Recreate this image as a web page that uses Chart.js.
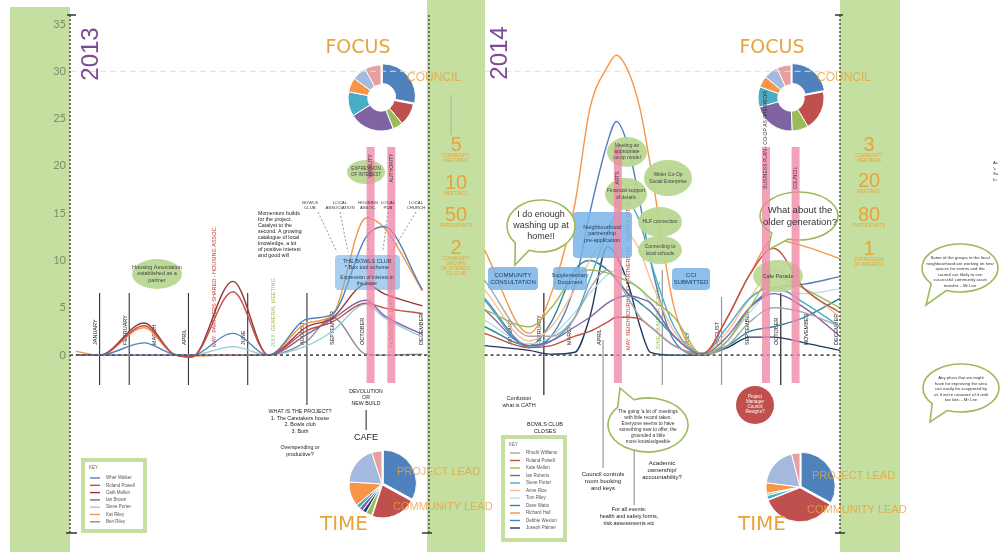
<!DOCTYPE html>
<html>
<head>
<meta charset="utf-8">
<script src="https://cdn.jsdelivr.net/npm/chart.js@4.4.1/dist/chart.umd.min.js"></script>
<style>
  html, body { margin: 0; padding: 0; background: #fff; }
  #wrap { position: relative; width: 1000px; height: 552px; overflow: hidden; }
  #wrap canvas { position: absolute; }
  #main { left: 0; top: 0; z-index: 2; }
</style>
</head>
<body>
<div id="wrap">
  <canvas id="focus2013" width="100" height="100" style="left:331px;top:48px"></canvas>
  <canvas id="focus2014" width="100" height="100" style="left:741px;top:48px"></canvas>
  <canvas id="time2013" width="100" height="100" style="left:332px;top:434px"></canvas>
  <canvas id="time2014" width="100" height="100" style="left:750px;top:437px"></canvas>
  <canvas id="main" width="1000" height="552"></canvas>
</div>
<script>
// ---- data ----
const months = ['JANUARY', 'FEBRUARY', 'MARCH', 'APRIL', 'MAY', 'JUNE', 'JULY',
                'AUGUST', 'SEPTEMBER', 'OCTOBER', 'NOVEMBER', 'DECEMBER'];
const yTicks = [0, 5, 10, 15, 20, 25, 30, 35];

// month positions (1 = Jan 2013, 15 = Jan 2014)
const x2013 = [0.2, 1, 2.5, 3.5, 4.1, 5.5, 6.7, 8, 8.85, 10, 10.6, 11.9];
const x2014 = [14.0, 15.5, 16.25, 17.05, 17.55, 18.15, 18.45, 18.85, 19.25, 19.6, 20.4, 21.35, 22.2, 22.95, 23.75, 24.8, 26.0];

const names2013 = ['Wher Walker', 'Roland Powell', 'Cath Mellon', 'Ian Brown', 'Steve Porter', 'Kat Riley', 'Ben Riley'];
const walker13 = [0, 0, 1.3, 0.1, 0, 2.3, 0, 3.8, 4.3, 12.5, 13.6, 6.9];
const powell13 = [0, 0, 3.1, 0.1, -0.2, 6.7, 0, 2.6, 3.5, 5.5, 5.0, 4.4];
const mellon13 = [0, 0, 3.4, 0.1, -0.2, 7.8, 0, 3.0, 3.9, 7.5, 6.5, 5.2];
const brown13  = [0, 0, 0, 0, 0, 0, 0, 2.2, 3.8, 5.8, 4.2, 2.2];
const porter13 = [0, 0, 0, 0, 0, 0.9, 0, 1.0, 2.5, 5.4, 4.0, 1.9];
const riley13  = [0.4, 0, 2.9, 0.1, -0.1, 0, 0, 3.4, 4.2, 14.5, 13.5, 6.8];
const ben13    = [0, 0, 0, 0, 0, 0, 0, 1.5, 4.0, 0.1, 0, 0.1];
const values2013 = [walker13, powell13, mellon13, brown13, porter13, riley13, ben13];
const colors2013 = ['#4f81bd', '#c0504d', '#953735', '#8064a2', '#93cddd', '#f79646', '#8c8c8c'];

const names2014 = ['Rhodri Williams', 'Roland Powell', 'Kate Mellon', 'Ian Roberts', 'Steve Porter', 'Anne Rice',
                   'Tom Riley', 'Dave Watts', 'Richard Hall', 'Debbie Weston', 'Joseph Palmer'];
const williams14 = [7.9, 2, 2, 4, 7, 9, 8, 6, 4, 3, 1, 0, 1, 3.5, 5, 4.5, 3];
const powell14   = [2.3, 0.8, 1, 2, 2.5, 3.5, 4, 4, 3.8, 3, 1, 0.1, 4, 8.5, 11.3, 7, 4.5];
const mellon14   = [4.8, 3, 5, 8.5, 9, 8.7, 8.3, 7.8, 7, 6, 4, 0.1, 1.5, 5, 8.3, 7, 5];
const roberts14  = [4.8, 1, 1.5, 3, 4, 5.5, 6, 6.3, 6, 5.5, 2, 0.1, 2, 5, 6.5, 5, 2];
const porter14   = [5.8, 0.8, 1.5, 4, 8, 13, 15, 16, 14, 10, 3, 0.2, 3, 6, 7.2, 5.5, 3];
const rice14     = [6.9, 1.5, 3, 7, 10, 13, 14, 13, 11, 8, 2.5, 0.2, 2.5, 6, 9, 7, 4];
const riley14    = [3.7, 1.2, 2, 4.5, 6.5, 8.5, 9, 8, 7, 5.5, 2, 0.1, 1.5, 4.5, 6.8, 6.5, 7];
const watts14    = [3.0, 1.0, 3.5, 9, 10, 9, 8, 6.5, 5.5, 4.6, 2, 0, 1, 2.5, 3, 4, 6];
const hall14     = [11.1, 2.3, 6.5, 16, 26, 30.5, 31.7, 30, 26, 20, 5, 0.2, 4, 8.5, 12.2, 11.5, 10.2];
const weston14   = [6.0, 1.0, 2.0, 7.5, 15, 22.5, 24.7, 22, 16, 10, 1.5, 0, 1.5, 5, 7, 7.5, 8.3];
const palmer14   = [1.0, 0.5, 0.1, 0.3, 4, 11.5, 10.5, 7.5, 3, 0.3, 0, 0, 0.8, 1.9, 1.9, 1.3, 0.5];
const values2014 = [williams14, powell14, mellon14, roberts14, porter14, rice14, riley14, watts14, hall14, weston14, palmer14];
const colors2014 = ['#a6a6a6', '#c0504d', '#9bbb59', '#8064a2', '#4bacc6', '#fac090', '#b7dee8',
                    '#31859c', '#f79646', '#4f81bd', '#1f3864'];

// event markers (month positions)
const markers2013 = [1, 2, 4, 6, 8];
const markers2014 = [16, 18, 20, 22, 24];
const pinkEvents = [10.15, 10.85, 18.5, 23.5, 24.5];

// pies
const focusLabels = ['Council', 'Housing', 'Funding', 'Community', 'Schools', 'Arts', 'Business', 'Heritage'];
const focus2013 = [28, 11, 5, 22, 12, 7, 7, 8];
const focus2014 = [22, 19.5, 8, 21, 10, 5.5, 7, 7];
const timeLabels2013 = ['Project lead', 'Community lead', 'Partners', 'Council', 'School', 'Arts', 'Volunteers', 'Meetings', 'Other'];
const time2013 = [33, 22, 3, 2, 2, 2, 12, 19, 5];
const timeLabels2014 = ['Project lead', 'Community lead', 'Arts', 'Partners', 'Volunteers', 'Meetings', 'Other'];
const time2014 = [33, 36, 2, 1, 5, 19, 4];

// ---- helpers ----
const SANS = "'Liberation Sans', Arial, sans-serif";
function say(c, s, x, y, size, color, align, rot, font) {
  c.save();
  c.font = size + 'px ' + (font || SANS);
  c.fillStyle = color;
  c.textAlign = align || 'center';
  c.textBaseline = 'middle';
  c.translate(x, y);
  if (rot) c.rotate(-Math.PI / 2);
  c.fillText(s, 0, 0);
  c.restore();
}
function block(c, lines, x, y, lh, size, color, align) {
  lines.forEach((s, i) => say(c, s, x, y + i * lh, size, color, align));
}
function oval(c, cx, cy, rx, ry, fill) {
  c.save(); c.beginPath(); c.ellipse(cx, cy, rx, ry, 0, 0, Math.PI * 2);
  c.fillStyle = fill; c.fill(); c.restore();
}
function bubble(c, cx, cy, rx, ry, ang, tx, ty) {
  const a = ang * Math.PI / 180, d = 0.25;
  c.save(); c.beginPath();
  c.ellipse(cx, cy, rx, ry, 0, a + d, a - d + Math.PI * 2);
  c.lineTo(tx, ty); c.closePath();
  c.fillStyle = '#fff'; c.fill();
  c.strokeStyle = '#9bbb59'; c.lineWidth = 1.6; c.stroke();
  c.restore();
}
function box(c, x, y, w, h, fill) {
  c.save(); c.beginPath(); c.roundRect(x, y, w, h, 4);
  c.fillStyle = fill; c.fill(); c.restore();
}
function vline(c, x, y1, y2, color, w, dash) {
  c.save(); c.beginPath(); c.strokeStyle = color; c.lineWidth = w || 1;
  if (dash) c.setLineDash(dash);
  c.moveTo(x, y1); c.lineTo(x, y2); c.stroke(); c.restore();
}
function seg(c, x1, y1, x2, y2, color, w, dash) {
  c.save(); c.beginPath(); c.strokeStyle = color; c.lineWidth = w || 1;
  if (dash) c.setLineDash(dash);
  c.moveTo(x1, y1); c.lineTo(x2, y2); c.stroke(); c.restore();
}

function makeSets(names, xs, vals, colors, panel) {
  return names.map((n, i) => ({
    label: n,
    panel: panel,
    data: xs.map((x, j) => ({ x: x, y: vals[i][j] })),
    borderColor: colors[i],
    borderWidth: 1.4,
    pointRadius: 0,
    cubicInterpolationMode: 'monotone',
    fill: false
  }));
}

const GREEN = '#c4df9f';
const ORANGE = '#e9a33b';
const INK = '#444';

const decor = {
  id: 'decor',
  beforeDraw(chart) {
    const c = chart.ctx;
    c.save();
    c.fillStyle = GREEN;
    c.fillRect(10, 7, 60, 545);
    c.fillRect(427, 0, 58, 552);
    c.fillRect(840, 0, 60, 552);
    c.restore();
  },
  beforeDatasetsDraw(chart) {
    const c = chart.ctx, X = chart.scales.x, Y = chart.scales.y;
    const a = chart.chartArea;
    const y30 = Y.getPixelForValue(30);
    const xl = X.getPixelForValue(12.12), xr = X.getPixelForValue(14.0);
    // faint 30 line
    seg(c, a.left, y30, xl, y30, '#dedede', 1, [6, 4]);
    seg(c, xr, y30, a.right, y30, '#dedede', 1, [6, 4]);
    // event markers
    markers2013.forEach((m, i) => vline(c, X.getPixelForValue(m), 293, i === 4 ? 405 : 385, '#333', 1.1));
    vline(c, X.getPixelForValue(10), 410, 430, '#333', 1.1);
    vline(c, X.getPixelForValue(16), 293, 395, '#222', 1.2);
    vline(c, X.getPixelForValue(18), 340, 468, '#999', 1.2);
    vline(c, X.getPixelForValue(20), 270, 385, '#999', 1.2);
    vline(c, X.getPixelForValue(22), 297, 385, '#999', 1.2);
    vline(c, X.getPixelForValue(24), 293, 385, '#222', 1.2);
    vline(c, X.getPixelForValue(19.05), 430, 505, '#999', 1.2);
    // month labels
    months.forEach((m, i) => {
      const special = { 4: 1, 6: 1, 10: 1 };
      if (!special[i]) say(c, m, X.getPixelForValue(i + 1) - 4, 345, 5.5, '#222', 'left', true);
      if (i !== 4 && i !== 5) say(c, m, X.getPixelForValue(i + 15) - 4, 345, 5.5, '#222', 'left', true);
    });
    say(c, 'MAY: PARTNERS SHARED - HOUSING ASSOC.', X.getPixelForValue(5) - 4, 347, 5.5, '#c0392b', 'left', true);
    say(c, 'JULY: GENERAL MEETING', X.getPixelForValue(7) - 4, 347, 5.5, '#9bbb59', 'left', true);
    say(c, 'NOVEMBER: LEASE TALKS', X.getPixelForValue(11) - 4, 347, 5.5, '#c0392b', 'left', true);
    say(c, 'MAY: NEIGHBOURHOOD PARTNERSHIP - CONSULTATION', X.getPixelForValue(19) - 4, 350, 5.5, '#c0392b', 'left', true);
    say(c, 'JUNE: SUMMER FESTIVAL', X.getPixelForValue(20) - 4, 350, 5.5, '#9bbb59', 'left', true);
  },
  afterDatasetsDraw(chart) {
    const c = chart.ctx, X = chart.scales.x, Y = chart.scales.y;
    const a = chart.chartArea;
    const y0 = Y.getPixelForValue(0);
    const xl = X.getPixelForValue(12.12), xr = X.getPixelForValue(14.0);

    // zero line
    seg(c, a.left, y0, xl, y0, '#555', 1.6, [3, 3]);
    seg(c, xr, y0, a.right, y0, '#555', 1.6, [3, 3]);
    // dotted axes
    [a.left, xl, a.right].forEach(x => vline(c, x, a.top, a.bottom, '#555', 1.6, [2, 2]));
    seg(c, 67, a.top, 76, a.top, '#333', 1.5);
    seg(c, 835, a.top, 843, a.top, '#333', 1.5);
    seg(c, 66, a.bottom, 77, a.bottom, '#333', 1.5);
    seg(c, 422, a.bottom, 432, a.bottom, '#333', 1.5);
    seg(c, 835, a.bottom, 845, a.bottom, '#333', 1.5);

    // ---- shapes 2013 ----
    box(c, 335, 255, 65, 35, 'rgba(110,175,230,0.6)');
    oval(c, 157, 274, 25, 15, 'rgba(185,215,145,0.95)');
    oval(c, 366, 172, 19, 12, 'rgba(185,215,145,0.95)');
    // leaders
    [[318, 212, 337, 252], [340, 212, 348, 252], [368, 212, 368, 250], [388, 212, 383, 250], [416, 212, 393, 250]]
      .forEach(p => seg(c, p[0], p[1], p[2], p[3], '#777', 0.8, [2, 2]));

    // ---- shapes 2014 ----
    box(c, 488, 267, 50, 23, 'rgba(120,180,232,0.85)');
    box(c, 553, 267, 34, 23, 'rgba(120,180,232,0.85)');
    box(c, 672, 268, 38, 22, 'rgba(120,180,232,0.85)');
    box(c, 573, 212, 59, 46, 'rgba(120,180,232,0.85)');
    bubble(c, 541, 226, 34, 26, 125, 515, 265);
    oval(c, 627, 152, 20, 15, 'rgba(185,215,145,0.95)');
    oval(c, 668, 178, 24, 18, 'rgba(185,215,145,0.95)');
    oval(c, 626, 194, 21, 16, 'rgba(185,215,145,0.95)');
    oval(c, 660, 222, 22, 15, 'rgba(185,215,145,0.95)');
    oval(c, 660, 250, 22, 14, 'rgba(185,215,145,0.95)');
    oval(c, 778, 276, 25, 16, 'rgba(185,215,145,0.9)');
    bubble(c, 799, 216, 39, 24, 120, 768, 250);
    bubble(c, 648, 425, 40, 27, 235, 620, 388);
    oval(c, 755, 405, 19, 19, '#c0504d');

    // far right bubbles
    bubble(c, 960, 268, 38, 24, 125, 926, 305);
    bubble(c, 961, 388, 38, 24, 125, 930, 422);

    // pink event bands
    c.save();
    c.fillStyle = 'rgba(240,135,165,0.78)';
    pinkEvents.forEach(u => c.fillRect(X.getPixelForValue(u) - 4, 147, 8, 236));
    c.restore();
    say(c, 'VIABILITY', X.getPixelForValue(10.15), 166, 5, '#333', 'center', true);
    say(c, 'AUTHORITY', X.getPixelForValue(10.85), 168, 5, '#333', 'center', true);
    say(c, 'ARTS', X.getPixelForValue(18.5), 178, 5, '#333', 'center', true);
    say(c, 'BUSINESS PLAN - CO-OP AS OPERATOR', X.getPixelForValue(23.5), 140, 5, '#333', 'center', true);
    say(c, 'COUNCIL', X.getPixelForValue(24.5), 178, 5, '#333', 'center', true);

    // ---- texts 2013 ----
    say(c, '2013', 91, 54, 24, '#7e4a96', 'center', true);
    say(c, 'FOCUS', 358, 48, 19, ORANGE, 'center', false, "'DejaVu Sans', sans-serif");
    say(c, 'COUNCIL', 407, 78, 12, 'rgba(233,163,59,0.8)', 'left');
    block(c, ['Housing Association', 'established as a', 'partner'], 157, 267, 6.5, 5.5, INK);
    block(c, ['Momentum builds', 'for the project.', 'Catalyst to the', 'second. A growing', 'catalogue of local',
              'knowledge, a lot', 'of positive interest', 'and good will'], 258, 214, 6, 5.3, '#222', 'left');
    [['BOWLS', 'CLUB', 310], ['LOCAL', 'ASSOCIATION', 340], ['HOUSING', 'ASSOC.', 368], ['LOCAL', 'PUB', 388], ['LOCAL', 'CHURCH', 416]]
      .forEach(t => block(c, [t[0], t[1]], t[2], 203, 4.5, 4.3, '#333'));
    block(c, ['THE BOWLS CLUB', '* Box tool scheme'], 367, 261, 6.5, 5.5, '#1f3a5a');
    block(c, ['Expression of interest in', 'the lease'], 367, 278, 6, 5, '#1f3a5a');
    block(c, ['EXPRESSION', 'OF INTEREST'], 366, 169, 6, 4.5, INK);
    block(c, ['DEVOLUTION', 'OR', 'NEW BUILD'], 366, 392, 6, 5.2, '#222');
    say(c, 'CAFE', 366, 438, 9, '#222');
    block(c, ['WHAT IS THE PROJECT?', '1. The Caretakers house', '2. Bowls club', '3. Both'], 300, 412, 6.5, 5.3, '#222');
    block(c, ['Overspending or', 'productive?'], 300, 448, 6.5, 5.3, '#222');
    say(c, 'TIME', 344, 525, 20, ORANGE, 'center', false, "'DejaVu Sans', sans-serif");
    say(c, 'PROJECT LEAD', 397, 472, 11, 'rgba(233,163,59,0.8)', 'left');
    say(c, 'COMMUNITY LEAD', 393, 507, 11, 'rgba(233,163,59,0.8)', 'left');

    // ---- numbers panels ----
    const nums13 = [['5', ['COMMUNITY', 'MEETINGS'], 145], ['10', ['MEETINGS'], 183], ['50', ['PARTICIPANTS'], 215],
                    ['2', ['COMMUNITY', 'GROUPS', 'OF INTEREST', 'TO CLUB'], 248]];
    const nums14 = [['3', ['COMMUNITY', 'MEETINGS'], 145], ['20', ['MEETINGS'], 181], ['80', ['PARTICIPANTS'], 215],
                    ['1', ['EXPRESSION', 'OF INTEREST'], 249]];
    vline(c, 451, 95, 135, '#9fb98a', 1);
    nums13.forEach(n => { say(c, n[0], 456, n[2], 20, ORANGE); block(c, n[1], 456, n[2] + 11, 5, 4.5, ORANGE); });
    nums14.forEach(n => { say(c, n[0], 869, n[2], 20, ORANGE); block(c, n[1], 869, n[2] + 11, 5, 4.5, ORANGE); });

    // ---- texts 2014 ----
    say(c, '2014', 500, 53, 24, '#7e4a96', 'center', true);
    say(c, 'FOCUS', 772, 48, 19, ORANGE, 'center', false, "'DejaVu Sans', sans-serif");
    say(c, 'COUNCIL', 817, 78, 12, 'rgba(233,163,59,0.8)', 'left');
    block(c, ['I do enough', 'washing up at', 'home!!'], 541, 215, 11, 9, '#333');
    block(c, ['Neighbourhood', 'partnership', 'pre-application'], 602, 227, 6.5, 5.5, '#1f3a5a');
    block(c, ['COMMUNITY', 'CONSULTATION'], 513, 275, 7.5, 6, '#1f3a5a');
    block(c, ['Supplementary', 'Document'], 570, 275, 7.5, 5.5, '#1f3a5a');
    block(c, ['CCI', 'SUBMITTED'], 691, 275, 7.5, 6, '#1f3a5a');
    block(c, ['Meeting an', 'appropriate', 'co-op model'], 627, 146, 6, 5, INK);
    block(c, ['Wider Co-Op', 'Social Enterprise'], 668, 175, 6.5, 5, INK);
    block(c, ['Financial support', 'of details'], 626, 191, 6.5, 5, INK);
    say(c, 'HLF connection', 660, 222, 5, INK);
    block(c, ['Connecting to', 'local schools'], 660, 247, 6.5, 5, INK);
    say(c, 'Cafe Parade', 778, 276, 5.5, INK);
    block(c, ['What about the', 'older generation?'], 800, 210, 12, 9.5, '#333');
    block(c, ['Project', 'Manager', 'Council', 'Resigns?'], 755, 397, 5, 4.5, '#fff');
    block(c, ["The going 'a lot of' meetings", 'with little record taken.', 'Everyone seems to have',
              'something new to offer, the', 'grounded a little', 'more knowledgeable'], 648, 412, 6, 4.8, '#333');
    block(c, ['Confusion', 'what is CATH'], 519, 398, 7, 5.5, '#222');
    block(c, ['BOWLS CLUB', 'CLOSES'], 545, 424, 7, 5.5, '#222');
    block(c, ['Council controls', 'room booking', 'and keys'], 603, 474, 7, 6, '#222');
    block(c, ['Academic', 'ownership/', 'accountability?'], 662, 463, 7, 6, '#222');
    block(c, ['For all events:', 'health and safety forms,', 'risk assessments etc'], 629, 509, 7, 5.5, '#222');
    say(c, 'TIME', 762, 525, 20, ORANGE, 'center', false, "'DejaVu Sans', sans-serif");
    say(c, 'PROJECT LEAD', 812, 476, 11, 'rgba(233,163,59,0.8)', 'left');
    say(c, 'COMMUNITY LEAD', 807, 510, 11, 'rgba(233,163,59,0.8)', 'left');

    // far right texts
    block(c, ['Some of the groups in the local', 'neighbourhood are working on new', 'spaces for events and the',
              'council are likely to see', 'successful community asset', 'transfer. - Mr Lee'], 960, 258, 5.5, 4.3, '#333');
    block(c, ['Any plans that we might', 'have for improving the area', 'can easily be scuppered by',
              "us if we're unaware of it until", 'too late. - Mr Lee'], 961, 378, 5.5, 4.3, '#333');
    block(c, ['Ac', "'s", 'Su', 'fu'], 993, 163, 5.5, 4.3, '#333', 'left');

    // ---- legends ----
    function legend(x, y, w, h, panel, y0, step) {
      c.save(); c.strokeStyle = GREEN; c.lineWidth = 4; c.fillStyle = '#fff';
      c.fillRect(x, y, w, h); c.strokeRect(x, y, w, h); c.restore();
      say(c, 'KEY', x + 6, y + 8, 4.5, '#666', 'left');
      chart.data.datasets.filter(d => d.panel === panel).forEach((d, i) => {
        const yy = y0 + i * step;
        seg(c, x + 7, yy, x + 17, yy, d.borderColor, 1.4);
        say(c, d.label, x + 23, yy, 4.5, '#555', 'left');
      });
    }
    legend(83, 460, 62, 71, 2013, 478, 7.3);
    legend(503, 437, 62, 103, 2014, 453, 7.5);
  }
};

const datasets = makeSets(names2013, x2013, values2013, colors2013, 2013)
  .concat(makeSets(names2014, x2014, values2014, colors2014, 2014));

new Chart(document.getElementById('main'), {
  type: 'line',
  data: { datasets: datasets },
  options: {
    responsive: false,
    animation: false,
    devicePixelRatio: 1,
    layout: { padding: { left: 30, right: 160, top: 15, bottom: 19 } },
    plugins: { legend: { display: false }, tooltip: { enabled: false } },
    scales: {
      x: { type: 'linear', min: 0, max: 26, display: false },
      y: {
        min: -18.8, max: 35.95,
        afterBuildTicks: s => { s.ticks = yTicks.map(v => ({ value: v })); },
        afterFit: s => { s.width = 40; },
        grid: { display: false, drawTicks: false },
        border: { display: false },
        ticks: { color: '#7d8d6b', padding: 4, font: { family: 'Lato', size: 11 } }
      }
    }
  },
  plugins: [decor]
});

// ---- pies ----
const pieColors = ['#4f81bd', '#c0504d', '#9bbb59', '#8064a2', '#4bacc6', '#f79646', '#a5b8de', '#e6a0a0'];
function pie(id, labels, values, colors, cutout, offsets, radius) {
  new Chart(document.getElementById(id), {
    type: 'doughnut',
    data: {
      labels: labels,
      datasets: [{ data: values, backgroundColor: colors, borderColor: '#fff', borderWidth: 1, offset: offsets }]
    },
    options: {
      responsive: false,
      animation: false,
      devicePixelRatio: 1,
      cutout: cutout,
      radius: radius,
      plugins: { legend: { display: false }, tooltip: { enabled: false } }
    }
  });
}
pie('focus2013', focusLabels, focus2013, pieColors, '40%', [7, 0, 0, 0, 0, 0, 0, 0], 33);
pie('focus2014', focusLabels, focus2014, pieColors, '40%', [7, 0, 0, 0, 0, 0, 0, 0], 33);
pie('time2013', timeLabels2013, time2013,
    ['#4f81bd', '#c0504d', '#9bbb59', '#1f497d', '#8064a2', '#4bacc6', '#f79646', '#a5b8de', '#e6a0a0'],
    0, [6, 4, 0, 0, 0, 0, 0, 0, 0], 33);
pie('time2014', timeLabels2014, time2014,
    ['#4f81bd', '#c0504d', '#4bacc6', '#9bbb59', '#f79646', '#a5b8de', '#e6a0a0'],
    0, [5, 3, 0, 0, 0, 0, 0], 34);
</script>
</body>
</html>
